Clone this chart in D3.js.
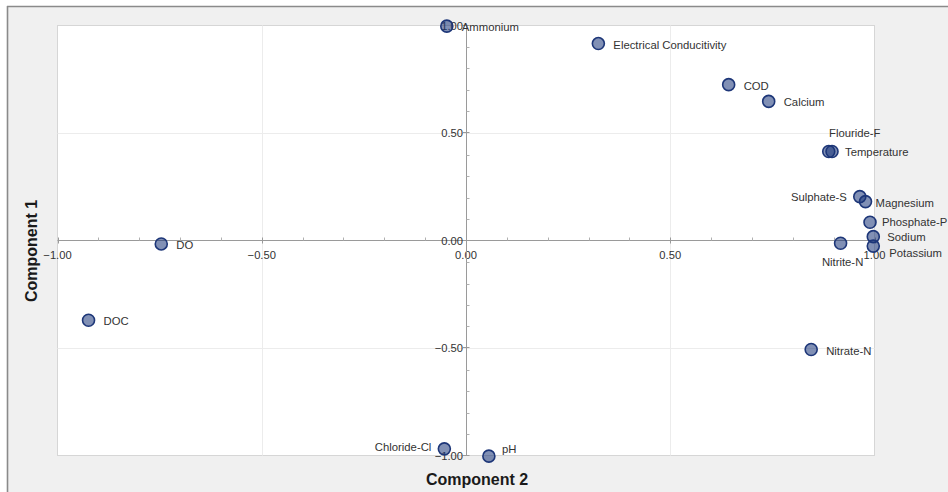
<!DOCTYPE html>
<html><head><meta charset="utf-8">
<script src="https://cdn.jsdelivr.net/npm/d3@7"></script>
<style>
html,body{margin:0;padding:0;background:#fff;}
svg{display:block;font-family:"Liberation Sans",Arial,sans-serif;}
</style></head>
<body>
<svg id="chart" width="948" height="492"></svg>
<script>
// ---- data ----
const variables = ["Ammonium","Electrical Conducitivity","COD","Calcium","Flouride-F","Temperature",
  "Sulphate-S","Magnesium","Phosphate-P","Sodium","Potassium","Nitrite-N","Nitrate-N","DO","DOC","Chloride-Cl","pH"];
const component2 = [-0.047, 0.324, 0.643, 0.741, 0.888, 0.896, 0.964, 0.978, 0.989, 0.997, 0.997, 0.917, 0.845, -0.746, -0.924, -0.053, 0.056];
const component1 = [0.997, 0.916, 0.725, 0.647, 0.414, 0.414, 0.204, 0.181, 0.085, 0.018, -0.026, -0.013, -0.507, -0.016, -0.371, -0.969, -1.003];
const majorTicks = [-1, -0.5, 0, 0.5, 1];
const minorTicks = [-0.9,-0.8,-0.7,-0.6,-0.4,-0.3,-0.2,-0.1,0.1,0.2,0.3,0.4,0.6,0.7,0.8,0.9];

// label placement (style only)
const labelPlace = {
  "Flouride-F": {dx: 26, dy: -18, anchor: "middle"},
  "Temperature": {dx: 13, dy: 1},
  "Sulphate-S": {dx: -13, dy: 0, anchor: "end"},
  "Magnesium": {dx: 10, dy: 1},
  "Phosphate-P": {dx: 12, dy: 0},
  "Sodium": {dx: 14, dy: 0},
  "Potassium": {dx: 16, dy: 7},
  "Nitrite-N": {dx: 2, dy: 19, anchor: "middle"},
  "Chloride-Cl": {dx: -13, dy: -2, anchor: "end"},
  "pH": {dx: 13, dy: -7}
};

const svg = d3.select("#chart");
const W = 948, H = 492;
const L = 57.5, R = 874.5, T = 25.5, B = 455.5;

// background frame
svg.append("rect").attr("x",7).attr("y",6).attr("width",W-7).attr("height",H-6).attr("fill","#f0f0f0");
svg.append("line").attr("x1",7).attr("x2",W).attr("y1",6.5).attr("y2",6.5).attr("stroke","#8a8a8a").attr("stroke-width",1.6);
svg.append("line").attr("x1",7.5).attr("x2",7.5).attr("y1",6).attr("y2",H).attr("stroke","#8a8a8a").attr("stroke-width",1.6);

svg.append("rect").attr("x",L).attr("y",T).attr("width",R-L).attr("height",B-T)
  .attr("fill","#fff").attr("stroke","#d6d6d6").attr("stroke-width",1);

const x = d3.scaleLinear().domain([-1,1]).range([L,R]);
const y = d3.scaleLinear().domain([-1,1]).range([B,T]);

// gridlines
const grid = svg.append("g").attr("stroke","#ececec").attr("stroke-width",1);
[-0.5,0.5].forEach(v=>{
  grid.append("line").attr("x1",Math.round(x(v))+0.5).attr("x2",Math.round(x(v))+0.5).attr("y1",T).attr("y2",B);
  grid.append("line").attr("y1",Math.round(y(v))+0.5).attr("y2",Math.round(y(v))+0.5).attr("x1",L).attr("x2",R);
});

const x0 = Math.round(x(0))+0.5, y0 = Math.round(y(0))-0.5;
const axisColor = "#9a9a9a";

// x axis (through y=0)
const xa = svg.append("g");
xa.append("line").attr("x1",L).attr("x2",R).attr("y1",y0).attr("y2",y0).attr("stroke",axisColor);
minorTicks.forEach(v=>{
  xa.append("line").attr("x1",Math.round(x(v))+0.5).attr("x2",Math.round(x(v))+0.5).attr("y1",y0-3).attr("y2",y0).attr("stroke","#b0b0b0");
});
majorTicks.forEach(v=>{
  xa.append("line").attr("x1",Math.round(x(v))+0.5).attr("x2",Math.round(x(v))+0.5).attr("y1",y0-3).attr("y2",y0+3).attr("stroke",axisColor);
  xa.append("text").attr("x",x(v)).attr("y",y0+14).attr("text-anchor","middle").attr("dominant-baseline","central")
    .attr("font-size",11.2).attr("fill","#333").text(d3.format(".2f")(v));
});

// y axis (through x=0)
const ya = svg.append("g");
ya.append("line").attr("x1",x0).attr("x2",x0).attr("y1",T).attr("y2",B).attr("stroke",axisColor);
minorTicks.forEach(v=>{
  ya.append("line").attr("y1",Math.round(y(v))+0.5).attr("y2",Math.round(y(v))+0.5).attr("x1",x0).attr("x2",x0+3).attr("stroke","#b0b0b0");
});
majorTicks.forEach(v=>{
  ya.append("line").attr("y1",Math.round(y(v))-0.5).attr("y2",Math.round(y(v))-0.5).attr("x1",x0-3.5).attr("x2",x0+3).attr("stroke",axisColor);
  ya.append("text").attr("x",x0-3.5).attr("y",y(v)).attr("text-anchor","end").attr("dominant-baseline","central")
    .attr("font-size",11.2).attr("fill","#333").text(d3.format(".2f")(v));
});

// axis titles
svg.append("text").attr("x",477).attr("y",485).attr("text-anchor","middle")
  .attr("font-size",16).attr("font-weight","bold").attr("fill","#1a1a1a").text("Component 2");
svg.append("text").attr("transform","translate(37,251) rotate(-90)").attr("text-anchor","middle")
  .attr("font-size",16).attr("font-weight","bold").attr("fill","#1a1a1a").text("Component 1");

// points
const data = variables.map((n,i)=>({name:n, cx:component2[i], cy:component1[i]}));
const pts = svg.append("g");
pts.selectAll("circle").data(data).join("circle")
  .attr("cx",d=>x(d.cx)).attr("cy",d=>y(d.cy)).attr("r",6)
  .attr("fill","rgba(26,53,120,0.55)").attr("stroke","#1d3678").attr("stroke-width",1.6);

pts.selectAll("text").data(data).join("text")
  .attr("x",d=>x(d.cx)+((labelPlace[d.name]||{}).dx ?? 15))
  .attr("y",d=>y(d.cy)+((labelPlace[d.name]||{}).dy ?? 1))
  .attr("text-anchor",d=>(labelPlace[d.name]||{}).anchor || "start")
  .attr("dominant-baseline","central")
  .attr("font-size",11.3).attr("fill","#333").text(d=>d.name);
</script>
</body></html>
